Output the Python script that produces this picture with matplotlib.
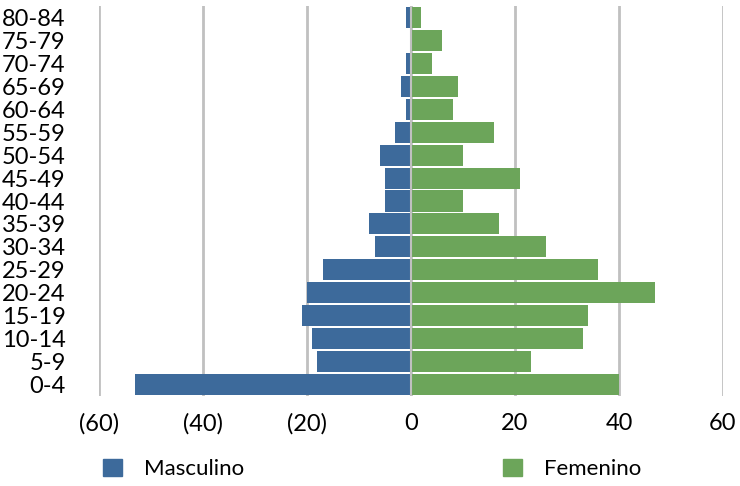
import numpy as np
import matplotlib
matplotlib.use("Agg")
import matplotlib.pyplot as plt
from matplotlib.patches import Patch

# Pirámide de población por grupo de edad
grupos = ['0-4', '5-9', '10-14', '15-19', '20-24', '25-29', '30-34', '35-39',
          '40-44', '45-49', '50-54', '55-59', '60-64', '65-69', '70-74',
          '75-79', '80-84']
masculino = [-53, -18, -19, -21, -20, -17, -7, -8, -5, -5, -6, -3, -1, -2, -1, 0, -1]
femenino = [40, 23, 33, 34, 47, 36, 26, 17, 10, 21, 10, 16, 8, 9, 4, 6, 2]
xticks = [-60, -40, -20, 0, 20, 40, 60]
xlabels = ['(60)', '(40)', '(20)', '0', '20', '40', '60']

azul = '#3d6a9b'
verde = '#6ca55a'
gris = '#c0c0c0'

plt.rcParams['font.family'] = ['Lato', 'DejaVu Sans']

fig = plt.figure(figsize=(7.4, 4.86), dpi=100)
ax = fig.add_axes([99/740, 1 - 396/486, (723 - 99)/740, (396 - 6)/486])

y = np.arange(len(grupos))
ax.barh(y, masculino, height=0.92, color=azul, zorder=2)
ax.barh(y, femenino, height=0.92, color=verde, zorder=2)

ax.set_xlim(-60, 60)
ax.set_ylim(-0.5, len(grupos) - 0.5)
ax.set_xticks(xticks)
ax.set_xticklabels(xlabels)
ax.set_yticks(y)
ax.set_yticklabels(grupos)

for xv in xticks:
    ax.axvline(xv, color=gris, lw=2, zorder=1)
ax.axvline(0, color=gris, lw=1.5, zorder=3)

for s in ax.spines.values():
    s.set_visible(False)
ax.tick_params(axis='both', length=0, labelsize=17)
ax.tick_params(axis='y', pad=24)
ax.tick_params(axis='x', pad=12)

h1 = Patch(color=azul, label='Masculino')
h2 = Patch(color=verde, label='Femenino')
kw = dict(frameon=False, fontsize=16, handlelength=0.85, handleheight=0.85,
          handletextpad=1.0, borderpad=0, borderaxespad=0, loc='center left')
fig.legend(handles=[h1], bbox_to_anchor=(103/740, 1 - 469/486), **kw)
fig.legend(handles=[h2], bbox_to_anchor=(503/740, 1 - 469/486), **kw)

fig.savefig('out.png', dpi=100)
